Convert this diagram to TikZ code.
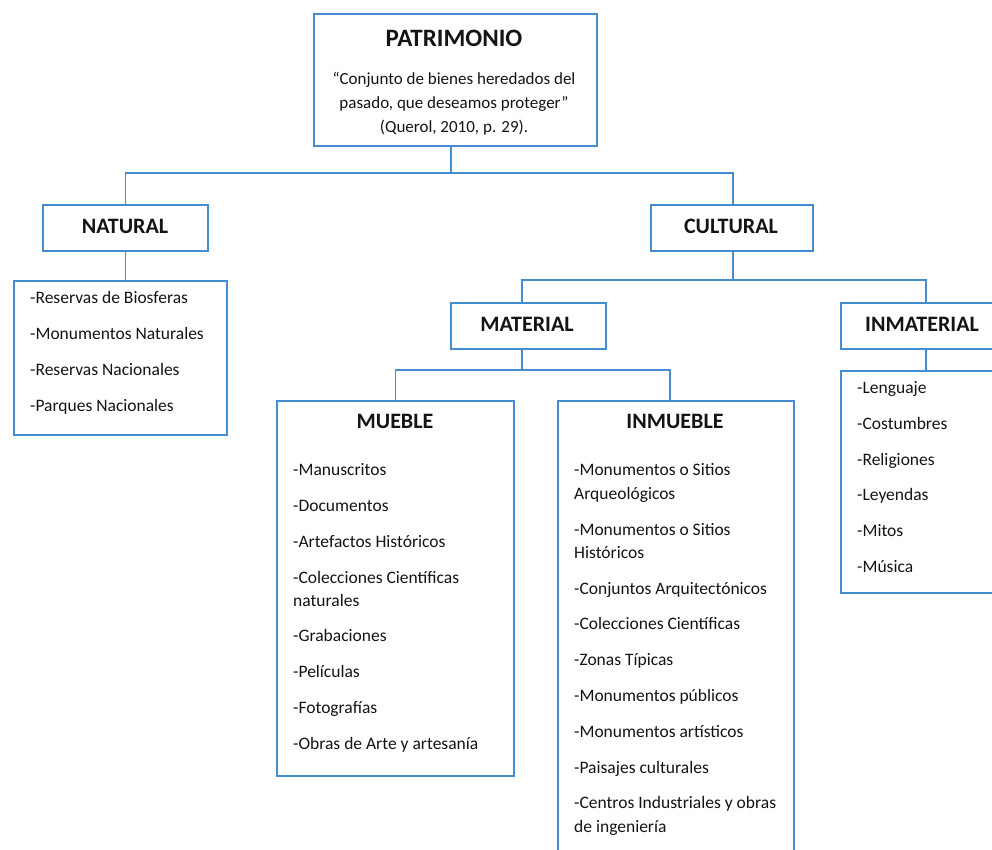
\documentclass[tikz,border=0pt]{standalone}
\usepackage{fontspec}
\setmainfont{Carlito}
\usetikzlibrary{calc}
\definecolor{lineblue}{RGB}{68,141,209}
\definecolor{txt}{RGB}{20,20,20}
\begin{document}
\begin{tikzpicture}[x=1pt,y=-1pt,
  box/.style={draw=lineblue,line width=1.9pt,fill=white,inner sep=0pt,anchor=north west},
  conn/.style={draw=lineblue,line width=1.9pt},
  ttl/.style={font=\fontsize{22}{26}\selectfont\bfseries,text=txt,inner sep=0pt},
  bigttl/.style={font=\fontsize{25}{30}\selectfont\bfseries,text=txt,inner sep=0pt},
  itm/.style={font=\fontsize{17.5}{20}\selectfont,text=txt,anchor=mid west,inner sep=0pt,yshift=-4pt},
  qline/.style={font=\fontsize{17}{20}\selectfont,text=txt,anchor=mid,inner sep=0pt,yshift=-4pt}]
\useasboundingbox[fill=white] (0,0) rectangle (992,849);
\clip (0,0) rectangle (992,849);
% boxes
\node[box,minimum width=283pt,minimum height=132pt] (pat) at (313,13) {};
\node[box,minimum width=165pt,minimum height=46pt] (nat) at (42,204) {};
\node[box,minimum width=213pt,minimum height=154pt] (natl) at (13,280) {};
\node[box,minimum width=162pt,minimum height=46pt] (cult) at (650,204) {};
\node[box,minimum width=155pt,minimum height=46pt] (mat) at (450,302) {};
\node[box,minimum width=170pt,minimum height=46pt] (inmat) at (840,302) {};
\node[box,minimum width=237pt,minimum height=375pt] (mue) at (276,400) {};
\node[box,minimum width=236pt,minimum height=480pt] (inm) at (557,400) {};
\node[box,minimum width=170pt,minimum height=222pt] (inml) at (840,370) {};
% junction coordinates
\coordinate (j1) at (451,173);
\coordinate (j2) at (733,280);
\coordinate (j3) at (522,370);
\coordinate (ix) at (670,0);
% connectors
\draw[conn] (pat.south -| j1) -- (j1);
\draw[conn] (nat.north) |- (j1) -| (cult.north -| j2);
\draw[conn] (nat.south) -- (nat.south |- natl.north);
\draw[conn] (cult.south -| j2) -- (j2);
\draw[conn] (mat.north -| j3) |- (j2) -| (inmat.north);
\draw[conn] (mat.south -| j3) -- (j3);
\draw[conn] (mue.north) |- (j3) -| (inm.north -| ix);
\draw[conn] (inmat.south) -- (inml.north -| inmat.south);
% titles
\node[bigttl] (patt) at (454,38) {PATRIMONIO};
\node[qline] (q1) at (454,78) {“Conjunto de bienes heredados del};
\node[qline] (q2) at (454,102) {pasado, que deseamos proteger”};
\node[qline] (q3) at (454,126) {(Querol, 2010, p. 29).};
\node[ttl] (natt) at (125,226) {NATURAL};
\node[ttl] (cultt) at (731,226) {CULTURAL};
\node[ttl] (matt) at (527,324) {MATERIAL};
\node[ttl] (inmatt) at (922,324) {INMATERIAL};
\node[ttl] (muet) at (395,421) {MUEBLE};
\node[ttl] (inmt) at (675,421) {INMUEBLE};
% lists
\foreach \t/\y [count=\i] in {-Reservas de Biosferas/297,-Monumentos Naturales/333,-Reservas Nacionales/369,-Parques Nacionales/405}
  \node[itm] (na\i) at (30,\y) {\t};
\foreach \t/\y [count=\i] in {-Manuscritos/469,-Documentos/505,-Artefactos Históricos/541,-Colecciones Científicas/577,naturales/600,-Grabaciones/635,-Películas/671,-Fotografías/707,-Obras de Arte y artesanía/743}
  \node[itm] (mu\i) at (293,\y) {\t};
\foreach \t/\y [count=\i] in {-Monumentos o Sitios/469,Arqueológicos/493,-Monumentos o Sitios/529,Históricos/552,-Conjuntos Arquitectónicos/588,-Colecciones Científicas/623,-Zonas Típicas/659,-Monumentos públicos/695,-Monumentos artísticos/731,-Paisajes culturales/767,-Centros Industriales y obras/802,de ingeniería/826}
  \node[itm] (in\i) at (574,\y) {\t};
\foreach \t/\y [count=\i] in {-Lenguaje/387,-Costumbres/423,-Religiones/459,-Leyendas/494,-Mitos/530,-Música/566}
  \node[itm] (im\i) at (857,\y) {\t};
\end{tikzpicture}
\end{document}
